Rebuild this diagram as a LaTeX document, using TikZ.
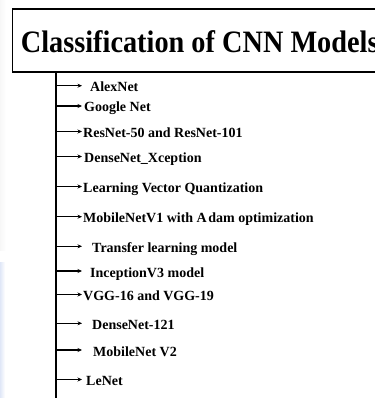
\documentclass[tikz,border=0pt]{standalone}
\usepackage{fontspec}
\setmainfont{Liberation Serif}
\usetikzlibrary{arrows.meta}
\definecolor{edgeblue}{RGB}{224,231,247}
\begin{document}
\begin{tikzpicture}[x=1pt,y=-1pt,
  titletext/.style={anchor=base west,inner sep=0pt,font=\fontsize{28.3}{30}\selectfont\bfseries},
  item/.style={anchor=base west,inner sep=0pt,font=\fontsize{14}{16}\selectfont\bfseries},
  trunk/.style={line width=1.8pt,draw=black},
  branch/.style={line width=1.4pt,-{Stealth[length=4.5pt,width=4pt]}}]
\useasboundingbox (0,0) rectangle (374,398);

% faint tint along the left margin
\shade[left color=black!3,right color=white] (0,0) rectangle (6,250);
\shade[left color=edgeblue,right color=white] (0,262) rectangle (5,398);

% heading box
\draw[line width=1.3pt] (390,9) -- (12.7,9) -- (12.7,72) -- (390,72);
\node[titletext] (title) at (20.7,53) {\scalebox{1}[1.1]{Classification of CNN Models}};

% trunk down the left side
\coordinate (trunktop) at (56,71.5);
\coordinate (trunkend) at (56,398);
\draw[trunk] (trunktop) -- (trunkend);

% model list, each hung from the trunk
\foreach \name/\y/\dx/\label in {
  a/85.7/8/{AlexNet},
  b/106/2/{Google Net},
  c/131.5/1/{ResNet-50 and ResNet-101},
  d/156.5/2/{DenseNet\_Xception},
  e/186.5/1/{Learning Vector Quantization},
  f/216.7/1/{MobileNetV1 with A\kern1.5pt dam optimization},
  g/246.3/10/{Transfer learning model},
  h/271/8/{InceptionV3 model},
  i/294.5/1/{VGG-16 and VGG-19},
  j/323.3/10/{DenseNet-121},
  k/350/11/{MobileNet V2},
  l/379.5/4/{LeNet}}
{
  \coordinate (t\name) at (56,\y);
  \node[item] (n\name) at (82,\y+6) {\hspace*{\dx pt}\label};
  \draw[branch] (t\name) -- (t\name -| n\name.west);
}
\end{tikzpicture}
\end{document}
